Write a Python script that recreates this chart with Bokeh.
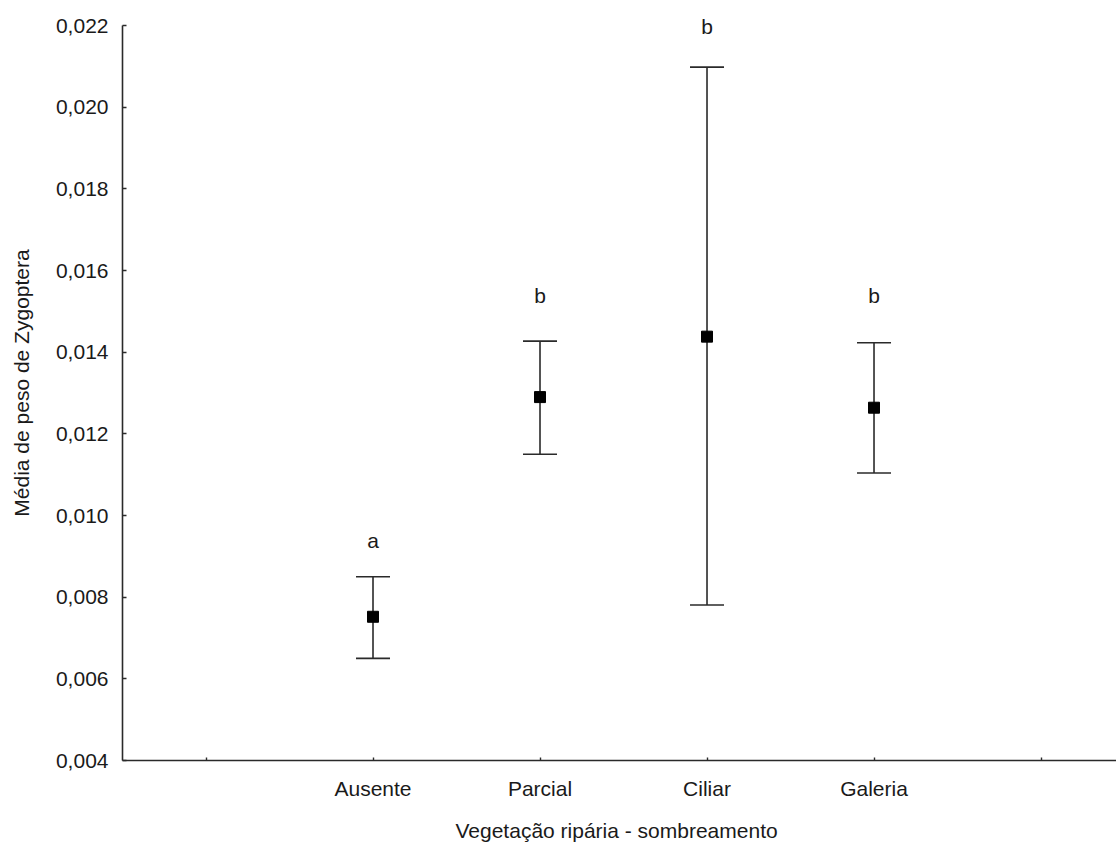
from bokeh.plotting import figure
from bokeh.models import (ColumnDataSource, Whisker, TeeHead, FixedTicker,
                          CustomJSTickFormatter, LabelSet, Range1d)
from bokeh.core.properties import value
from bokeh.embed import file_html
from bokeh.resources import INLINE

categories = ["Ausente", "Parcial", "Ciliar", "Galeria"]
means = [0.00752, 0.01290, 0.01438, 0.01264]
upper = [0.00850, 0.01427, 0.02098, 0.01423]
lower = [0.00650, 0.01150, 0.00781, 0.01104]
letters = ["a", "b", "b", "b"]
letter_y = [0.0092, 0.0152, 0.0218, 0.0152]
y_ticks = [0.004, 0.006, 0.008, 0.010, 0.012, 0.014, 0.016, 0.018, 0.020, 0.022]

xpos = list(range(1, len(categories) + 1))
src = ColumnDataSource(dict(x=xpos, mean=means, upper=upper, lower=lower,
                            letter=letters, ly=letter_y))

FONT = "Liberation Sans"
TXT = "#1a1a1a"
LINE = "#2a2a2a"

p = figure(width=1116, height=849, output_backend="svg", toolbar_location=None,
           x_range=Range1d(-0.5, 5.452), y_range=Range1d(0.004, 0.02249),
           min_border_left=122, min_border_right=0, min_border_top=5,
           min_border_bottom=89)
p.outline_line_color = None
p.xgrid.visible = False
p.ygrid.visible = False

w = Whisker(base="x", upper="upper", lower="lower", source=src,
            line_color=LINE, line_width=1.6,
            upper_head=TeeHead(size=34, line_color=LINE, line_width=1.6),
            lower_head=TeeHead(size=34, line_color=LINE, line_width=1.6))
p.add_layout(w)
p.scatter("x", "mean", source=src, marker="square", size=11,
          fill_color="black", line_color="black")

labels = LabelSet(x="x", y="ly", text="letter", source=src,
                  text_align="center", text_baseline="alphabetic",
                  text_font=value(FONT), text_font_size="21px", text_color=TXT)
p.add_layout(labels)

# axes
p.yaxis.ticker = FixedTicker(ticks=y_ticks)
p.yaxis.bounds = (y_ticks[0], y_ticks[-1])
p.yaxis.formatter = CustomJSTickFormatter(code="return tick.toFixed(3).replace('.', ',');")
p.xaxis.ticker = FixedTicker(ticks=[0, 1, 2, 3, 4, 5])
p.xaxis.major_label_overrides = {0: "", 5: "", **{i + 1: c for i, c in enumerate(categories)}}
p.yaxis.axis_label = "Média de peso de Zygoptera"
p.xaxis.axis_label = "Vegetação ripária  - sombreamento"

for ax in (p.xaxis[0], p.yaxis[0]):
    ax.axis_line_color = LINE
    ax.axis_line_width = 1.6
    ax.major_tick_line_color = LINE
    ax.major_tick_line_width = 1.4
    ax.major_tick_out = 0
    ax.minor_tick_line_color = None
    ax.major_label_text_font = FONT
    ax.major_label_text_font_size = "21px"
    ax.major_label_text_color = TXT
    ax.axis_label_text_font = FONT
    ax.axis_label_text_font_size = "21px"
    ax.axis_label_text_font_style = "normal"
    ax.axis_label_text_color = TXT

p.yaxis.major_tick_in = 4
p.xaxis.major_tick_in = 3
p.yaxis.major_label_standoff = 14
p.xaxis.major_label_standoff = 16
p.yaxis.axis_label_standoff = 20
p.xaxis.axis_label_standoff = 16

open("out.html", "w").write(file_html(p, INLINE))
